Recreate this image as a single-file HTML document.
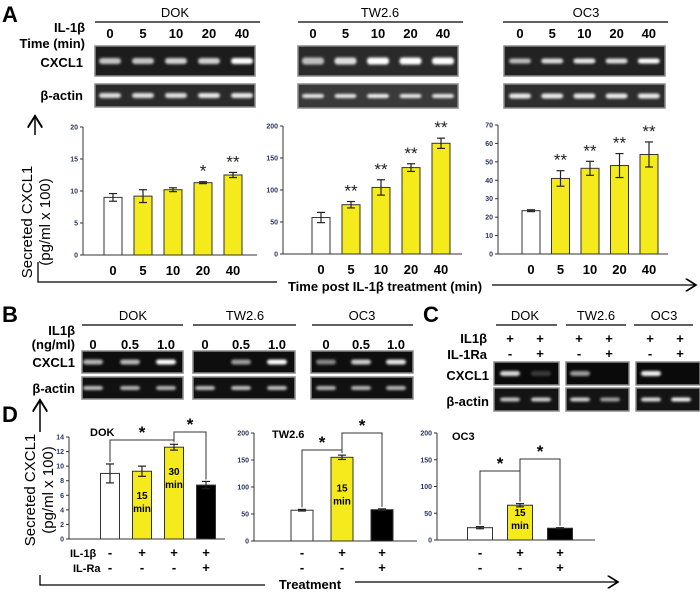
<!DOCTYPE html>
<html><head><meta charset="utf-8"><style>
html,body{margin:0;padding:0;background:#fff;}
svg{display:block;font-family:"Liberation Sans",Arial,sans-serif;}
.b{font-weight:bold;}
</style></head><body>
<svg id="fig" width="700" height="600" viewBox="0 0 700 600" xmlns="http://www.w3.org/2000/svg">
<defs>
<filter id="blur" x="-50%" y="-100%" width="200%" height="300%"><feGaussianBlur stdDeviation="1.3"/></filter>
<marker id="arr" markerWidth="10" markerHeight="10" refX="8" refY="5" orient="auto"><path d="M0,0 L8,5 L0,10" fill="none" stroke="#000" stroke-width="1.3"/></marker>
</defs>

<text x="2" y="22" font-size="22" class="b">A</text>
<text x="2" y="322" font-size="22" class="b">B</text>
<text x="423" y="322" font-size="22" class="b">C</text>
<text x="2" y="422" font-size="22" class="b">D</text>

<g font-size="13">
<text x="175" y="17" text-anchor="middle">DOK</text>
<line x1="95" y1="22" x2="260" y2="22" stroke="#000" stroke-width="1.3"/>
<text x="380" y="17" text-anchor="middle">TW2.6</text>
<line x1="298" y1="22" x2="463" y2="22" stroke="#000" stroke-width="1.3"/>
<text x="586" y="17" text-anchor="middle">OC3</text>
<line x1="503" y1="22" x2="668" y2="22" stroke="#000" stroke-width="1.3"/>
<text x="85" y="32" text-anchor="end" class="b">IL-1β</text>
<text x="85" y="48" text-anchor="end" class="b">Time (min)</text>
<text x="83" y="67" text-anchor="end" class="b">CXCL1</text>
<text x="83" y="100" text-anchor="end" class="b">β-actin</text>
</g>
<g id="aNums" font-size="13" class="b" text-anchor="middle"></g>

<g>
<line x1="35" y1="135" x2="35" y2="116" stroke="#000" stroke-width="1.5" marker-end="url(#arr)"/>
<text transform="translate(32,222) rotate(-90)" text-anchor="middle" font-size="15">Secreted CXCL1</text>
<text transform="translate(50,222) rotate(-90)" text-anchor="middle" font-size="15">(pg/ml x 100)</text>
</g>
<g>
<polyline points="38,262 38,282 277,282" fill="none" stroke="#000" stroke-width="1.3"/>
<text x="385" y="291" text-anchor="middle" font-size="13" class="b">Time post IL-1β treatment (min)</text>
<line x1="492" y1="285" x2="696" y2="285" stroke="#000" stroke-width="1.3" marker-end="url(#arr)"/>
</g>

<g font-size="13">
<text x="133" y="320" text-anchor="middle">DOK</text>
<line x1="82" y1="325" x2="183" y2="325" stroke="#000" stroke-width="1.3"/>
<text x="245" y="320" text-anchor="middle">TW2.6</text>
<line x1="193" y1="325" x2="296" y2="325" stroke="#000" stroke-width="1.3"/>
<text x="362" y="320" text-anchor="middle">OC3</text>
<line x1="312" y1="325" x2="413" y2="325" stroke="#000" stroke-width="1.3"/>
<text x="75" y="335" text-anchor="end" class="b">IL1β</text>
<text x="75" y="349" text-anchor="end" class="b">(ng/ml)</text>
<text x="75" y="367" text-anchor="end" class="b">CXCL1</text>
<text x="75" y="393" text-anchor="end" class="b">β-actin</text>
</g>
<g font-size="13" class="b" text-anchor="middle">
<text x="93" y="349">0</text><text x="130" y="349">0.5</text><text x="166" y="349">1.0</text>
<text x="205" y="349">0</text><text x="241" y="349">0.5</text><text x="277" y="349">1.0</text>
<text x="326" y="349">0</text><text x="361" y="349">0.5</text><text x="396" y="349">1.0</text>
</g>

<g font-size="13">
<text x="525" y="320" text-anchor="middle">DOK</text>
<line x1="496" y1="325" x2="557" y2="325" stroke="#000" stroke-width="1.3"/>
<text x="596" y="320" text-anchor="middle">TW2.6</text>
<line x1="566" y1="325" x2="626" y2="325" stroke="#000" stroke-width="1.3"/>
<text x="664" y="320" text-anchor="middle">OC3</text>
<line x1="634" y1="325" x2="693" y2="325" stroke="#000" stroke-width="1.3"/>
<text x="487" y="343" text-anchor="end" class="b">IL1β</text>
<text x="487" y="359" text-anchor="end" class="b">IL-1Ra</text>
<text x="489" y="380" text-anchor="end" class="b">CXCL1</text>
<text x="489" y="406" text-anchor="end" class="b">β-actin</text>
</g>
<g font-size="13" class="b" text-anchor="middle">
<text x="510" y="343">+</text><text x="540" y="343">+</text><text x="579" y="343">+</text><text x="609" y="343">+</text><text x="650" y="343">+</text><text x="680" y="343">+</text>
<text x="510" y="358">-</text><text x="540" y="358">+</text><text x="579" y="358">-</text><text x="609" y="358">+</text><text x="650" y="358">-</text><text x="680" y="358">+</text>
</g>

<g>
<line x1="40" y1="432" x2="40" y2="400" stroke="#000" stroke-width="1.5" marker-end="url(#arr)"/>
<text transform="translate(35,490) rotate(-90)" text-anchor="middle" font-size="15">Secreted CXCL1</text>
<text transform="translate(53,490) rotate(-90)" text-anchor="middle" font-size="15">(pg/ml x 100)</text>
</g>
<g>
<polyline points="40,575 40,585 265,585" fill="none" stroke="#000" stroke-width="1.3"/>
<text x="310" y="589" text-anchor="middle" font-size="13" class="b">Treatment</text>
<line x1="355" y1="582" x2="618" y2="582" stroke="#000" stroke-width="1.3" marker-end="url(#arr)"/>
</g>
<g font-size="11" class="b">
<text x="70" y="557">IL-1β</text>
<text x="73" y="572">IL-Ra</text>
</g>
<g id="gels"></g>
<g id="charts"></g>
</svg>
<script>
// ---- Chart data ----
const timeCats = ["0","5","10","20","40"];
const dokTime = [9.0, 9.2, 10.2, 11.3, 12.5];
const dokTimeErr = [0.6, 1.0, 0.3, 0.15, 0.4];
const dokTimeStars = ["", "", "", "*", "**"];
const twTime = [57, 77, 104, 135, 173];
const twTimeErr = [8, 5, 12, 6, 8];
const twTimeStars = ["", "**", "**", "**", "**"];
const ocTime = [23.5, 41, 46.5, 48, 54];
const ocTimeErr = [0.5, 4.2, 3.8, 6.5, 6.8];
const ocTimeStars = ["", "**", "**", "**", "**"];
const dokTicks = [0,5,10,15,20];
const twTicks = [0,50,100,150,200];
const ocTicks = [0,10,20,30,40,50,60,70];

const dokTreat = [9.0, 9.3, 12.6, 7.4];
const dokTreatErr = [1.3, 0.7, 0.4, 0.5];
const dokTreatLabels = ["", "15|min", "30|min", ""];
const dokIL1b = ["-","+","+","+"];
const dokILRa = ["-","-","-","+"];
const twTreat = [57, 155, 58];
const twTreatErr = [1.5, 4, 1.5];
const ocTreat = [23, 65, 22];
const ocTreatErr = [2, 3, 1];
const treat3Labels = ["", "15|min", ""];
const il1b3 = ["-","+","+"];
const ilra3 = ["-","-","+"];
const dokDTicks = [0,2,4,6,8,10,12,14];
const dTicks200 = [0,50,100,150,200];

const NS = "http://www.w3.org/2000/svg";
function mk(tag, attrs, parent){
  const e = document.createElementNS(NS, tag);
  for (const k in attrs) e.setAttribute(k, attrs[k]);
  parent.appendChild(e);
  return e;
}
const charts = document.getElementById('charts');
const gels = document.getElementById('gels');
const colors = {w:"#ffffff", y:"#f4ea1c", k:"#000000"};

function barChart(cfg){
  const g = mk('g', {}, charts);
  
  
  const yS = v => cfg.y0 - (v / cfg.max) * (cfg.y0 - cfg.yTop);
  const xS = i => cfg.x1 + i * cfg.step;
  const ax = mk('line', {x1:cfg.ax, y1:cfg.yTop, x2:cfg.ax, y2:cfg.y0, stroke:"#333", "stroke-width":1}, g);
  
  
  const bx = mk('line', {x1:cfg.ax, y1:cfg.y0, x2:cfg.xEnd, y2:cfg.y0, stroke:"#333", "stroke-width":1}, g);
  
  
  cfg.ticks.forEach(t => {
    const y = yS(t);
    mk('line', {x1:cfg.ax-3, y1:y, x2:cfg.ax, y2:y, stroke:"#333", "stroke-width":1}, g);
    const tl = mk('text', {x:cfg.ax-5, y:y+2.5, "font-size":7, "font-weight":"bold", fill:"#2a3560", "text-anchor":"end"}, g);
    
    
    tl.textContent = t;
  });
  cfg.values.forEach((v, i) => {
    const cx = xS(i), top = yS(v);
    const r = mk('rect', {x:cx - cfg.bw/2, y:top, width:cfg.bw, height:cfg.y0 - top, fill:colors[cfg.fills[i]], stroke:"#333", "stroke-width":1}, g);
    
    
    const e = cfg.err[i];
    const eg = mk('g', {stroke:"#222", "stroke-width":1.2}, g);
    
    
    mk('line', {x1:cx, y1:yS(v+e), x2:cx, y2:yS(v-e)}, eg);
    mk('line', {x1:cx-4, y1:yS(v+e), x2:cx+4, y2:yS(v+e)}, eg);
    mk('line', {x1:cx-4, y1:yS(v-e), x2:cx+4, y2:yS(v-e)}, eg);
    if (cfg.stars && cfg.stars[i]) {
      const s = mk('text', {x:cx, y:yS(v+e)-5, "font-size":17, "text-anchor":"middle", fill:"#222"}, g);
      
      
      s.textContent = cfg.stars[i];
    }
    if (cfg.cats) {
      const c = mk('text', {x:cx, y:cfg.y0+20, "font-size":13, "font-weight":"bold", "text-anchor":"middle"}, g);
      
      
      c.textContent = cfg.cats[i];
    }
    if (cfg.inLabels && cfg.inLabels[i]) {
      const parts = cfg.inLabels[i].split('|');
      parts.forEach((p, j) => {
        const t = mk('text', {x:cx, y:top + cfg.labOff + j*13, "font-size":10, "font-weight":"bold", "text-anchor":"middle"}, g);
        
        
        t.textContent = p;
      });
    }
    if (cfg.rowA) {
      const a = mk('text', {x:cx, y:557, "font-size":13, "font-weight":"bold", "text-anchor":"middle"}, g);
      
      
      a.textContent = cfg.rowA[i];
      const b = mk('text', {x:cx, y:572, "font-size":13, "font-weight":"bold", "text-anchor":"middle"}, g);
      
      
      b.textContent = cfg.rowB[i];
    }
  });
  if (cfg.brackets) {
    cfg.brackets.forEach(br => {
      const [a, b, lvl] = br;
      const xa = xS(a), xb = xS(b);
      const ya = yS(cfg.values[a] + cfg.err[a]) - 2, yb = yS(cfg.values[b] + cfg.err[b]) - 2;
      const p = mk('polyline', {points:`${xa},${ya} ${xa},${lvl} ${xb},${lvl} ${xb},${yb}`, fill:"none", stroke:"#333", "stroke-width":1}, g);
      
      
      const s = mk('text', {x:(xa+xb)/2, y:lvl-2, "font-size":17, "font-weight":"bold", "text-anchor":"middle"}, g);
      
      
      s.textContent = '*';
    });
  }
  if (cfg.title) {
    const t = mk('text', {x:cfg.titleX, y:cfg.titleY, "font-size":11, "font-weight":"bold"}, g);
    
    
    t.textContent = cfg.title;
  }
}

barChart({name:"chart-a-dok", key:"dok", ax:83, xEnd:257, y0:255, yTop:127, max:20, ticks:dokTicks, x1:113, step:30, bw:18,
  values:dokTime, err:dokTimeErr, stars:dokTimeStars, cats:timeCats, fills:["w","y","y","y","y"]});
barChart({name:"chart-a-tw26", key:"tw", ax:283, xEnd:462, y0:254, yTop:126, max:200, ticks:twTicks, x1:321, step:30, bw:18,
  values:twTime, err:twTimeErr, stars:twTimeStars, cats:timeCats, fills:["w","y","y","y","y"]});
barChart({name:"chart-a-oc3", key:"oc3", ax:498, xEnd:668, y0:254, yTop:125, max:70, ticks:ocTicks, x1:531, step:29.5, bw:18,
  values:ocTime, err:ocTimeErr, stars:ocTimeStars, cats:timeCats, fills:["w","y","y","y","y"]});

barChart({name:"chart-d-dok", key:"ddok", ax:69, xEnd:225, y0:539, yTop:437, max:14, ticks:dokDTicks, x1:110, step:32, bw:19,
  values:dokTreat, err:dokTreatErr, fills:["w","y","y","k"], inLabels:dokTreatLabels, labOff:28, rowA:dokIL1b, rowB:dokILRa,
  brackets:[[0,2,440],[2,3,432]], title:"DOK", titleX:90, titleY:436});
barChart({name:"chart-d-tw26", key:"dtw", ax:254, xEnd:417, y0:541, yTop:433, max:200, ticks:dTicks200, x1:302, step:40, bw:22,
  values:twTreat, err:twTreatErr, fills:["w","y","k"], inLabels:treat3Labels, labOff:34, rowA:il1b3, rowB:ilra3,
  brackets:[[0,1,450],[1,2,433]], title:"TW2.6", titleX:272, titleY:438});
barChart({name:"chart-d-oc3", key:"doc", ax:437, xEnd:595, y0:540, yTop:433, max:200, ticks:dTicks200, x1:480, step:40, bw:25,
  values:ocTreat, err:ocTreatErr, fills:["w","y","k"], inLabels:treat3Labels, labOff:11, rowA:il1b3, rowB:ilra3,
  brackets:[[0,1,471],[1,2,459]], title:"OC3", titleX:452, titleY:440});

const aNums = document.getElementById('aNums');
[[110,33],[298+15,32.5],[520,32.2]].forEach(([s,st]) => {
  timeCats.forEach((c,i) => { const t = mk('text', {x:s+i*st, y:38}, aNums); t.textContent = c; });
});

function gel(name, x, y, w, h, bandX, bandW, bandH, ints, bg){
  const g = mk('g', {}, gels);
  
  
  mk('rect', {x:x, y:y, width:w, height:h, fill:bg, stroke:"#8a8a8a", "stroke-width":1.5}, g);
  bandX.forEach((bx, i) => {
    if (ints[i] <= 0) return;
    mk('rect', {x:bx-bandW/2, y:y+h/2-bandH/2, width:bandW, height:bandH, rx:3, fill:"#fff", opacity:ints[i], filter:"url(#blur)"}, g);
  });
}
const sp = (s, n, st) => Array.from({length:n}, (_, i) => s + i*st);
gel("gel-a-dok-cxcl1", 95, 46, 160, 30, sp(110,5,33), 22, 6, [0.75,0.75,0.8,0.8,1], "#1c1c1c");
gel("gel-a-dok-actin", 95, 84, 160, 23, sp(110,5,33), 22, 5, [0.85,0.85,0.85,0.9,0.9], "#2a2a2a");
gel("gel-a-tw-cxcl1", 298, 46, 160, 30, sp(313,5,32.5), 22, 7, [0.7,0.85,1,1,1], "#2a2a2a");
gel("gel-a-tw-actin", 298, 84, 160, 24, sp(313,5,32.5), 22, 4, [0.9,0.9,0.95,0.9,0.9], "#3a3a3a");
gel("gel-a-oc-cxcl1", 504, 46, 161, 30, sp(520,5,32.2), 22, 5, [0.7,0.85,0.9,0.85,1], "#222");
gel("gel-a-oc-actin", 504, 84, 161, 24, sp(520,5,32.2), 22, 5, [0.9,0.9,0.9,0.9,0.9], "#2e2e2e");
gel("gel-b-dok-cxcl1", 82, 351, 101, 22, [93,130,166], 20, 5, [0.7,0.7,1], "#0e0e0e");
gel("gel-b-dok-actin", 82, 377, 101, 22, [93,130,166], 20, 4, [0.75,0.7,0.7], "#111");
gel("gel-b-tw-cxcl1", 193, 351, 102, 22, [205,241,277], 20, 5, [0,0.6,1], "#0e0e0e");
gel("gel-b-tw-actin", 193, 377, 102, 22, [205,241,277], 20, 4, [0.75,0.75,0.75], "#111");
gel("gel-b-oc-cxcl1", 311, 351, 102, 22, [326,361,396], 20, 5, [0.5,0.8,0.9], "#0e0e0e");
gel("gel-b-oc-actin", 311, 377, 102, 22, [326,361,396], 20, 4, [0.7,0.7,0.7], "#111");
gel("gel-c-dok-cxcl1", 494, 362, 65, 23, [510,541], 20, 5, [0.85,0.2], "#0a0a0a");
gel("gel-c-dok-actin", 494, 388, 65, 23, [510,541], 20, 4, [0.75,0.8], "#141414");
gel("gel-c-tw-cxcl1", 566, 362, 63, 23, [580,610], 20, 5, [0.6,0], "#0a0a0a");
gel("gel-c-tw-actin", 566, 388, 63, 23, [580,610], 20, 4, [0.8,0.6], "#141414");
gel("gel-c-oc-cxcl1", 636, 362, 64, 23, [651,681], 20, 5, [0.95,0], "#0a0a0a");
gel("gel-c-oc-actin", 636, 388, 64, 23, [651,681], 20, 4, [0.85,0.95], "#141414");
</script>
</body></html>
